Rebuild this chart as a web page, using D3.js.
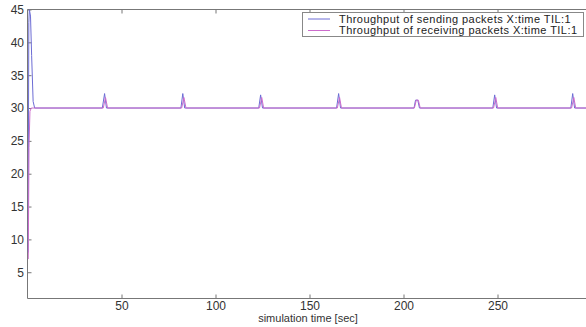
<!DOCTYPE html>
<html>
<head>
<meta charset="utf-8">
<script src="https://cdn.jsdelivr.net/npm/d3@7"></script>
<style>
  body { margin: 0; background: #fff; }
  svg { display: block; font-family: "Liberation Sans", Arial, sans-serif; }
</style>
</head>
<body>
<script>
// Throughput of sending packets
const sendTime = [0.3, 0.7, 1.0, 1.6, 2.2, 3.0, 3.8, 4.5,
  39.8, 41.0, 42.0, 42.8, 81.6, 82.6, 83.6, 84.4, 123.0, 124.0, 125.0, 125.8,
  164.4, 165.5, 166.5, 167.3, 205.6, 206.4, 207.6, 208.5, 247.5, 248.5, 249.5, 250.3,
  289.0, 290.0, 291.0, 291.8, 300];
const sendVal = [8, 43, 45, 44, 38, 31, 30, 30,
  30, 32.2, 30, 30, 30, 32.2, 30, 30, 30, 32, 30, 30,
  30, 32.2, 30, 30, 30, 31.2, 31.2, 30, 30, 32, 30, 30,
  30, 32.2, 30, 30, 30];

// Throughput of receiving packets
const recvTime = [0.4, 0.8, 1.3, 2.0, 3.0,
  40.3, 41.5, 42.6, 82.0, 83.2, 84.3, 123.4, 124.6, 125.6,
  164.8, 166.0, 167.0, 205.8, 206.8, 207.9, 208.9, 247.9, 249.1, 250.1,
  289.4, 290.6, 291.6, 300];
const recvVal = [7, 24, 29.5, 30, 30,
  30, 31.6, 30, 30, 31.6, 30, 30, 31.6, 30,
  30, 31.6, 30, 30, 31.2, 31.2, 30, 30, 31.6, 30,
  30, 31.6, 30, 30];

const yTicks = [5, 10, 15, 20, 25, 30, 35, 40, 45];
const xTicks = [50, 100, 150, 200, 250];
const legendLabels = [
  "Throughput of sending packets X:time TIL:1",
  "Throughput of receiving packets X:time TIL:1"
];
const colors = ["#6c6cd4", "#cc6ccc"];

const width = 586, height = 327;
const svg = d3.select("body").append("svg")
  .attr("width", width).attr("height", height);

const x = d3.scaleLinear().domain([0, 300]).range([27.5, 591.5]);
const y = d3.scaleLinear().domain([1, 45]).range([298.5, 9.5]);

const axisColor = "#777";

// frame lines (left, bottom, top)
svg.append("path")
  .attr("d", `M${width},${y(45)}H${x(0)}V${y(1)}H${width}`)
  .attr("fill", "none").attr("stroke", axisColor).attr("stroke-width", 1);

// y axis ticks, inward
const yAxis = svg.append("g").attr("transform", `translate(${x(0)},0)`)
  .call(d3.axisLeft(y).tickValues(yTicks).tickSize(-4).tickPadding(3.5));
// bottom axis
const xAxis = svg.append("g").attr("transform", `translate(0,${y(1)})`)
  .call(d3.axisBottom(x).tickValues(xTicks).tickSize(-4).tickPadding(3));
// top ticks
const xTop = svg.append("g").attr("transform", `translate(0,${y(45)})`)
  .call(d3.axisTop(x).tickValues(xTicks).tickSize(-4).tickFormat(""));

[yAxis, xAxis, xTop].forEach(g => {
  g.select(".domain").remove();
  g.selectAll(".tick line").attr("stroke", axisColor);
  g.selectAll(".tick text").attr("fill", "#333").attr("font-size", 12);
});

// x label
svg.append("text")
  .attr("x", 308).attr("y", 322)
  .attr("text-anchor", "middle")
  .attr("font-size", 11).attr("fill", "#333")
  .text("simulation time [sec]");

// lines
const line = d3.line().x(d => x(d[0])).y(d => y(d[1]));
svg.append("clipPath").attr("id", "clip")
  .append("rect").attr("x", x(0)).attr("y", y(45))
  .attr("width", width - x(0)).attr("height", y(1) - y(45));

svg.append("path")
  .datum(sendTime.map((t, i) => [t, sendVal[i]]))
  .attr("clip-path", "url(#clip)")
  .attr("d", line).attr("fill", "none")
  .attr("stroke", colors[0]).attr("stroke-width", 1);
svg.append("path")
  .datum(recvTime.map((t, i) => [t, recvVal[i]]))
  .attr("clip-path", "url(#clip)")
  .attr("d", line).attr("fill", "none")
  .attr("stroke", colors[1]).attr("stroke-width", 1);

// legend
const lg = svg.append("g");
lg.append("rect")
  .attr("x", 302.5).attr("y", 12.5).attr("width", 281).attr("height", 24)
  .attr("fill", "#fff").attr("stroke", "#888");
legendLabels.forEach((lab, i) => {
  const ly = 19 + i * 11.5;
  lg.append("line").attr("x1", 308).attr("x2", 330)
    .attr("y1", ly).attr("y2", ly).attr("stroke", colors[i]);
  lg.append("text").attr("x", 339).attr("y", ly + 3.8)
    .attr("font-size", 11).attr("letter-spacing", 0.45)
    .attr("fill", "#222").text(lab);
});
</script>
</body>
</html>
